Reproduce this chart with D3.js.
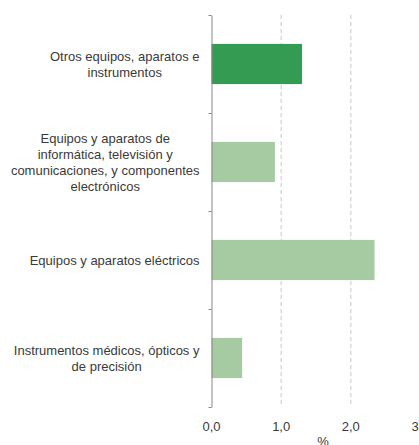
<!DOCTYPE html>
<html>
<head>
<meta charset="utf-8">
<script src="https://cdn.jsdelivr.net/npm/d3@7"></script>
<style>
  body { margin: 0; background: #fff; }
  text { font-family: "Liberation Sans", Arial, sans-serif; fill: #3a3a3a; }
</style>
</head>
<body>
<div class="chart"></div>
<script>
// Chart data
var categories = [
  ["Otros equipos, aparatos e", "instrumentos"],
  ["Equipos y aparatos de", "informática, televisión y", "comunicaciones, y componentes", "electrónicos"],
  ["Equipos y aparatos eléctricos"],
  ["Instrumentos médicos, ópticos y", "de precisión"]
];
var values = [1.30, 0.91, 2.34, 0.44];
var highlight = [true, false, false, false];
var xTicks = [0, 1, 2, 3];
var xTickLabels = ["0,0", "1,0", "2,0", "3,0"];
var xTitle = "%";

var svgWidth = 419;
var svgHeight = 445;
var margin = { top: 15, right: 0, bottom: 38, left: 211.5 };
var height = svgHeight - margin.top - margin.bottom;

var svg = d3.select(".chart")
  .append("svg")
  .attr("width", svgWidth)
  .attr("height", svgHeight)
  .append("g")
  .attr("transform", "translate(" + margin.left + "," + margin.top + ")");

// scales
var xScale = d3.scaleLinear().domain([0, 3]).range([0, 209]);
var yScale = d3.scaleBand()
  .domain(d3.range(categories.length))
  .range([0, height])
  .paddingInner(0.59)
  .paddingOuter(0.295);
var edgeScale = d3.scaleLinear().domain([0, categories.length]).range([0, height]);

// dashed gridlines
svg.selectAll(".grid")
  .data(xTicks.slice(1))
  .enter()
  .append("line")
  .attr("class", "grid")
  .attr("x1", function(d) { return xScale(d); })
  .attr("x2", function(d) { return xScale(d); })
  .attr("y1", 0)
  .attr("y2", height)
  .attr("stroke", "#c8c8c8")
  .attr("stroke-dasharray", "4,3");

// bars
svg.selectAll("rect")
  .data(values)
  .enter()
  .append("rect")
  .attr("x", xScale(0))
  .attr("y", function(d, i) { return yScale(i); })
  .attr("width", function(d) { return xScale(d) - xScale(0); })
  .attr("height", yScale.bandwidth())
  .attr("fill", function(d, i) { return highlight[i] ? "#349b52" : "#a6caa1"; });

// category axis with ticks on band edges
var leftAxis = d3.axisLeft(edgeScale)
  .tickValues(d3.range(categories.length + 1))
  .tickSize(3)
  .tickSizeOuter(0)
  .tickFormat("");
var yAxis = svg.append("g").call(leftAxis);
yAxis.select(".domain").attr("stroke", "#888");
yAxis.selectAll(".tick line").attr("stroke", "#888");

// category labels, each line centred inside a block aligned right
var lineH = 16;
categories.forEach(function(lines, i) {
  var g = svg.append("g");
  var cy = yScale(i) + yScale.bandwidth() / 2;
  var texts = lines.map(function(l, j) {
    return g.append("text")
      .attr("y", cy + (j - (lines.length - 1) / 2) * lineH)
      .attr("dy", "0.35em")
      .attr("text-anchor", "middle")
      .style("font-size", "13px")
      .text(l);
  });
  var maxW = d3.max(texts, function(t) { return t.node().getComputedTextLength(); });
  texts.forEach(function(t) { t.attr("x", -12 - maxW / 2); });
});

// x tick labels
svg.selectAll(".xlabel")
  .data(xTicks)
  .enter()
  .append("text")
  .attr("class", "xlabel")
  .attr("x", function(d) { return xScale(d); })
  .attr("y", height + 24)
  .attr("text-anchor", "middle")
  .style("font-size", "13px")
  .text(function(d, i) { return xTickLabels[i]; });

svg.append("text")
  .attr("x", xScale(1.6))
  .attr("y", height + 39)
  .attr("text-anchor", "middle")
  .style("font-size", "13px")
  .text(xTitle);
</script>
</body>
</html>
